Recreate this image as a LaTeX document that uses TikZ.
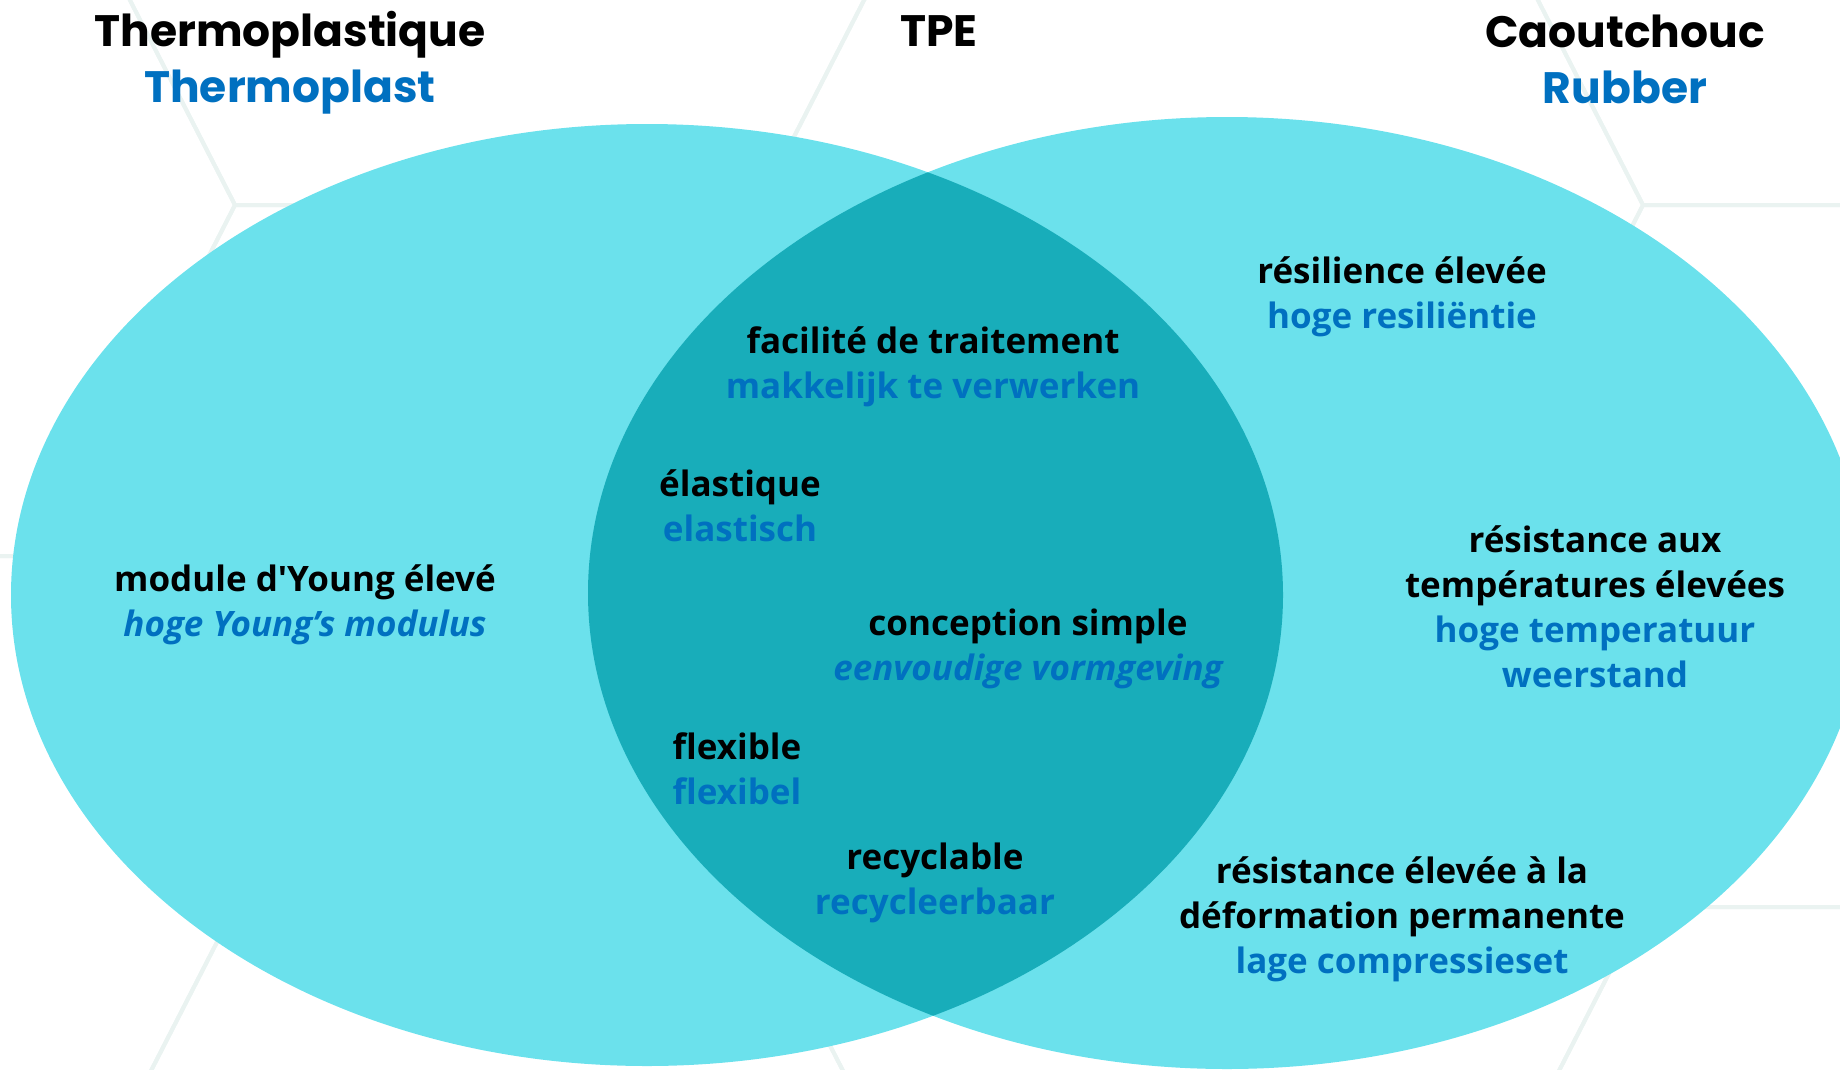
\documentclass[tikz,border=0pt]{standalone}
\usepackage{fontspec}
\setmainfont{Open Sans}
\newfontfamily\headfont{Poppins}
\definecolor{cyanlight}{RGB}{107,225,236}
\definecolor{cyandark}{RGB}{24,173,186}
\definecolor{nlblue}{RGB}{0,112,192}
\definecolor{hexgray}{RGB}{234,243,241}
\newcommand{\nl}[1]{\textcolor{nlblue}{#1}}
\newcommand{\sq}{{\addfontfeatures{Ligatures=TeXOff}'}}
\tikzset{
  head/.style={align=center, inner sep=0pt, font=\headfont\bfseries\fontsize{44}{56}\selectfont},
  prop/.style={align=center, inner sep=0pt, font=\bfseries\fontsize{35}{45}\selectfont},
  hexline/.style={draw=hexgray, line width=4pt}
}

\begin{document}
\begin{tikzpicture}[x=1pt,y=-1pt]
\useasboundingbox (0,0) rectangle (1840,1069);
\begin{scope}
\clip (0,0) rectangle (1840,1069);
% honeycomb in the back
\foreach \cx/\cy in {-207/205,497/-146,1201/205,1905/-146}
  \foreach \j in {0,1,2}
    \draw[hexline] ({\cx-442},{\cy+702*\j}) -- ++(180,-351) -- ++(524,0) -- ++(180,351)
      -- ++(-180,351) -- ++(-524,0) -- cycle;
\fill[cyanlight] (647,595) ellipse [x radius=636, y radius=471];
\fill[cyanlight] (1227,593) ellipse [x radius=639, y radius=476];
\clip (647,595) ellipse [x radius=636, y radius=471];
\fill[cyandark] (1227,593) ellipse [x radius=639, y radius=476];
\end{scope}

\node[head] (thermo) at (290,63) {Thermoplastique\\\nl{Thermoplast}};
\node[head] (tpe) at (939,31) {TPE};
\node[head] (caout) at (1625,59) {Caoutchouc\\\nl{Rubber}};

\node[prop] (young) at (305,605) {module d\sq Young élevé\\\nl{\itshape hoge Young’s modulus}};

\node[prop] (trait) at (933,367) {facilité de traitement\\\nl{makkelijk te verwerken}};
\node[prop] (elast) at (740,506) {élastique\\\nl{elastisch}};
\node[prop] (simple) at (1028,649) {conception simple\\\nl{\itshape eenvoudige vormgeving}};
\node[prop] (flex) at (737,769) {flexible\\\nl{flexibel}};
\node[prop] (recyc) at (935,883) {recyclable\\\nl{recycleerbaar}};

\node[prop] (resil) at (1402,297) {résilience élevée\\\nl{hoge resiliëntie}};
\node[prop] (temp) at (1595,607) {résistance aux\\températures élevées\\\nl{hoge temperatuur}\\\nl{weerstand}};
\node[prop] (deform) at (1402,919) {résistance élevée à la\\déformation permanente\\\nl{lage compressieset}};
\end{tikzpicture}
\end{document}
